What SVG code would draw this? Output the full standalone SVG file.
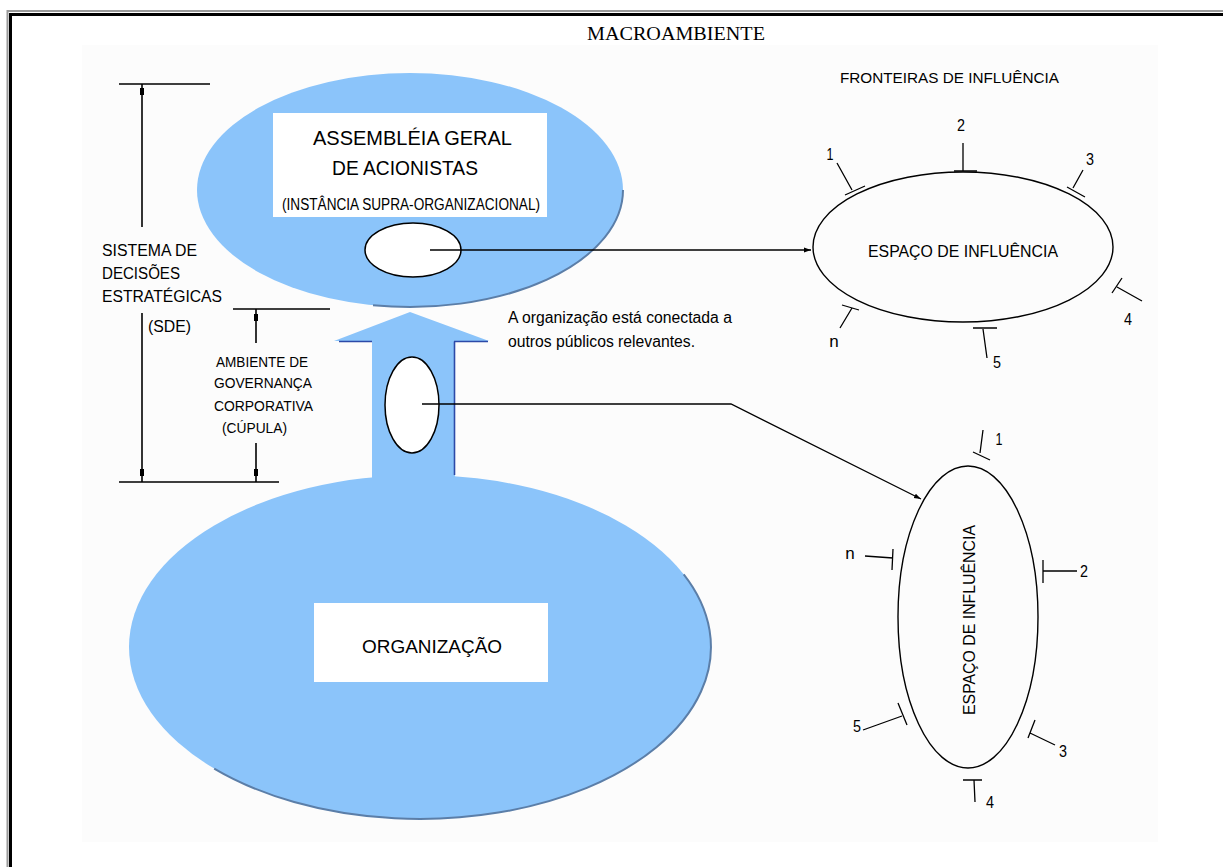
<svg xmlns="http://www.w3.org/2000/svg" width="1223" height="867" viewBox="0 0 1223 867">
<style>
text{font-family:"Liberation Sans",Arial,sans-serif;fill:#000}
.serif{font-family:"Liberation Serif","Times New Roman",serif}
.ln{stroke:#000;stroke-width:1.3;fill:none}
.br{stroke:#000;stroke-width:1.6;fill:none}
.blue{fill:#8bc4fa}
.edge{fill:none;stroke:#5b7ea8;stroke-width:2}
.wbox{fill:#fff}
.hole{fill:#fff;stroke:#000;stroke-width:1.5}
.sp{fill:none;stroke:#000;stroke-width:1.4}
.dk{stroke:#2c4aa8;stroke-width:1.6;fill:none}
.lbl{font-size:17px;text-anchor:middle}
</style>
<defs>
<marker id="ah" markerWidth="8" markerHeight="6" refX="7" refY="3" orient="auto" markerUnits="userSpaceOnUse">
<path d="M0,0.5 L7,3 L0,5.5 Z" fill="#000"/>
</marker>
</defs>
<rect width="1223" height="867" fill="#fff"/>
<g id="frame">
<rect x="82" y="45" width="1076" height="797" fill="#fcfcfc"/>
<path d="M7.5,867 V11 H1223" stroke="#9a9a9a" stroke-width="2" fill="none"/>
<path d="M10.5,867 V14.5 H1223" stroke="#000" stroke-width="3" fill="none"/>
</g>
<g id="title">
<text class="serif" x="676" y="40" font-size="19.5" text-anchor="middle" textLength="178" lengthAdjust="spacingAndGlyphs">MACROAMBIENTE</text>
</g>
<g id="sde-bracket">
<line class="br" x1="119" y1="84" x2="210" y2="84"/>
<line class="br" x1="142" y1="84" x2="142" y2="227"/>
<line class="br" x1="142" y1="313" x2="142" y2="482"/>
<line class="br" x1="119" y1="482" x2="279" y2="482"/>
<rect x="140" y="88" width="4" height="7" fill="#000"/>
<rect x="140" y="469" width="4" height="7" fill="#000"/>
<text x="102" y="256" font-size="16" textLength="95" lengthAdjust="spacingAndGlyphs">SISTEMA DE</text>
<text x="102" y="279" font-size="16" textLength="78" lengthAdjust="spacingAndGlyphs">DECISÕES</text>
<text x="102" y="302" font-size="16" textLength="120" lengthAdjust="spacingAndGlyphs">ESTRATÉGICAS</text>
<text x="148" y="332" font-size="16" textLength="43" lengthAdjust="spacingAndGlyphs">(SDE)</text>
</g>
<g id="governance-bracket">
<line class="br" x1="233" y1="309" x2="330" y2="309"/>
<line class="br" x1="256" y1="309" x2="256" y2="343"/>
<line class="br" x1="256" y1="443" x2="256" y2="482"/>
<rect x="254" y="314" width="4" height="7" fill="#000"/>
<rect x="254" y="469" width="4" height="7" fill="#000"/>
<text x="216" y="367" font-size="14" textLength="92" lengthAdjust="spacingAndGlyphs">AMBIENTE DE</text>
<text x="214" y="388" font-size="14" textLength="98" lengthAdjust="spacingAndGlyphs">GOVERNANÇA</text>
<text x="214" y="411" font-size="14" textLength="99" lengthAdjust="spacingAndGlyphs">CORPORATIVA</text>
<text x="222" y="433" font-size="14" textLength="65" lengthAdjust="spacingAndGlyphs">(CÚPULA)</text>
</g>
<g id="organizacao">
<ellipse class="blue" cx="420" cy="647" rx="291" ry="172"/>
<path class="edge" d="M683.7,574.3 A291,172 0 0 1 214.2,768.6"/>
<rect class="wbox" x="314" y="603" width="234" height="79"/>
<text x="362" y="653" font-size="18" textLength="140" lengthAdjust="spacingAndGlyphs">ORGANIZAÇÃO</text>
</g>
<g id="arrow">
<path class="blue" d="M410,312 L489,341 L455,341 L455,480 L372,480 L372,341 L334,341 Z"/>
<path class="dk" d="M339,341.5 H372 M454,341.5 H488 M454.5,341.5 V475"/>
<ellipse class="hole" cx="412" cy="405" rx="27" ry="48"/>
</g>
<g id="assembleia">
<ellipse class="blue" cx="410" cy="190" rx="213" ry="117"/>
<path class="edge" d="M623,190 A213,117 0 0 1 373,305.2"/>
<rect class="wbox" x="273" y="113" width="274" height="104"/>
<text x="313" y="145" font-size="21" textLength="199" lengthAdjust="spacingAndGlyphs">ASSEMBLÉIA GERAL</text>
<text x="332" y="175" font-size="21" textLength="146" lengthAdjust="spacingAndGlyphs">DE ACIONISTAS</text>
<text x="282" y="210" font-size="16" textLength="258" lengthAdjust="spacingAndGlyphs">(INSTÂNCIA SUPRA-ORGANIZACIONAL)</text>
<ellipse class="hole" cx="413" cy="250" rx="48" ry="27"/>
</g>
<g id="note">
<text x="508" y="323" font-size="16" textLength="224" lengthAdjust="spacingAndGlyphs">A organização está conectada a</text>
<text x="508" y="347" font-size="16" textLength="187" lengthAdjust="spacingAndGlyphs">outros públicos relevantes.</text>
</g>
<g id="espaco-top">
<text x="840" y="83" font-size="15" textLength="219" lengthAdjust="spacingAndGlyphs">FRONTEIRAS DE INFLUÊNCIA</text>
<ellipse class="sp" cx="963" cy="247" rx="150" ry="75"/>
<text x="868" y="257" font-size="16" textLength="190" lengthAdjust="spacingAndGlyphs">ESPAÇO DE INFLUÊNCIA</text>
<path class="ln" d="M837,163 L852,190 M845,195 L865,186"/>
<path class="ln" d="M963,143 V171 M954,171 H977"/>
<path class="ln" d="M1083,170 L1073,188 M1067,187 L1085,197"/>
<path class="ln" d="M1142,301 L1117,287 M1112,293 L1122,278"/>
<path class="ln" d="M983,329 L987,358 M973,328 H997"/>
<path class="ln" d="M852,308 L840,328 M842,305 L859,310"/>
<text class="lbl" x="830" y="160" textLength="7" lengthAdjust="spacingAndGlyphs">1</text>
<text class="lbl" x="961" y="131" textLength="8" lengthAdjust="spacingAndGlyphs">2</text>
<text class="lbl" x="1090" y="165" textLength="8" lengthAdjust="spacingAndGlyphs">3</text>
<text class="lbl" x="1128" y="325" textLength="8" lengthAdjust="spacingAndGlyphs">4</text>
<text class="lbl" x="997" y="368" textLength="8" lengthAdjust="spacingAndGlyphs">5</text>
<text class="lbl" x="834" y="347" font-size="13">n</text>
</g>
<g id="espaco-bottom">
<ellipse class="sp" cx="968" cy="617" rx="70" ry="151"/>
<text transform="translate(975,620) rotate(-90)" x="0" y="0" font-size="16" text-anchor="middle" textLength="190" lengthAdjust="spacingAndGlyphs">ESPAÇO DE INFLUÊNCIA</text>
<path class="ln" d="M983,430 L980,453 M973,452 L990,460"/>
<path class="ln" d="M1043,571 H1077 M1043,560 V583"/>
<path class="ln" d="M1055,745 L1030,733 M1028,738 L1035,720"/>
<path class="ln" d="M974,780 L975,802 M963,780 H982"/>
<path class="ln" d="M863,730 L902,716 M898,703 L907,725"/>
<path class="ln" d="M865,556 L893,558 M893,549 L892,570"/>
<text class="lbl" x="999" y="445" textLength="7" lengthAdjust="spacingAndGlyphs">1</text>
<text class="lbl" x="1084" y="577" textLength="8" lengthAdjust="spacingAndGlyphs">2</text>
<text class="lbl" x="1063" y="757" textLength="8" lengthAdjust="spacingAndGlyphs">3</text>
<text class="lbl" x="990" y="808" textLength="8" lengthAdjust="spacingAndGlyphs">4</text>
<text class="lbl" x="857" y="732" textLength="8" lengthAdjust="spacingAndGlyphs">5</text>
<text class="lbl" x="850" y="559" font-size="13">n</text>
</g>
<g id="connectors">
<line class="ln" x1="430" y1="250" x2="811" y2="250" marker-end="url(#ah)"/>
<polyline class="ln" points="422,404 731,404 921,499" marker-end="url(#ah)"/>
</g>
</svg>
